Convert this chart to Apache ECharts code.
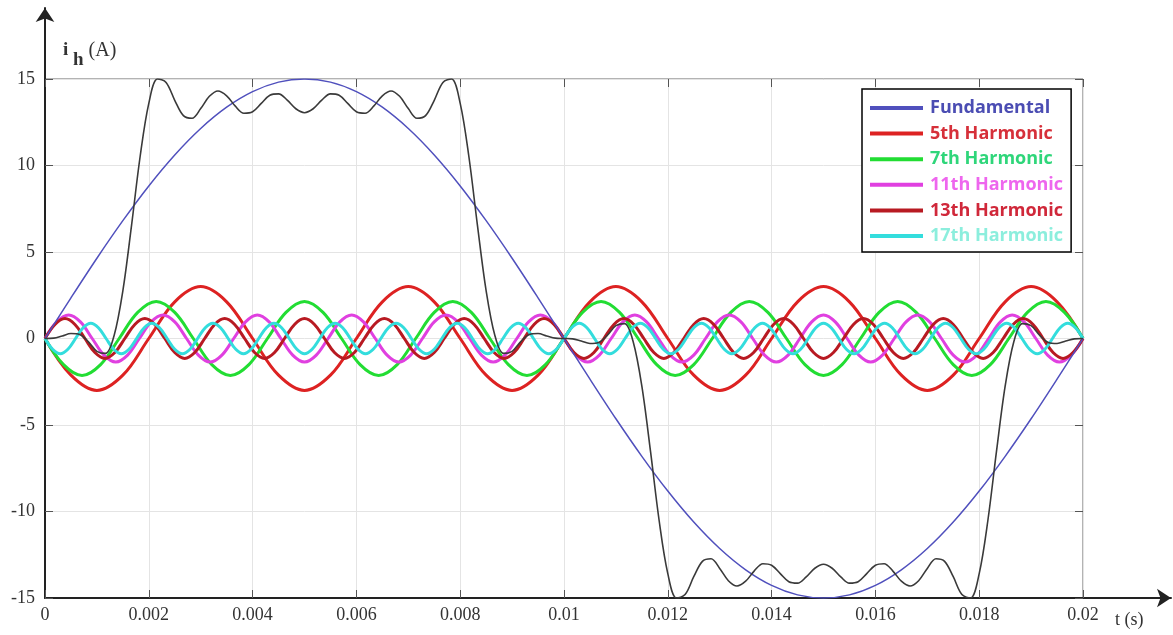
<!DOCTYPE html>
<html>
<head>
<meta charset="utf-8">
<script src="https://cdn.jsdelivr.net/npm/echarts@6/dist/echarts.min.js"></script>
<style>html,body{margin:0;padding:0;background:#fff}#c{width:1173px;height:635px}</style>
</head>
<body>
<div id="c"></div>
<script>
// ---------- data (time in s, current in A) ----------
const yTicks = [-15, -10, -5, 0, 5, 10, 15];
const xTicks = [0, 0.002, 0.004, 0.006, 0.008, 0.01, 0.012, 0.014, 0.016, 0.018, 0.02];
const seriesNames = ['Fundamental', '5th Harmonic', '7th Harmonic', '11th Harmonic', '13th Harmonic', '17th Harmonic'];

const tFund = [0,0.0005,0.001,0.0015,0.002,0.0025,0.003,0.0035,0.004,0.0045,0.005,0.0055,0.006,0.0065,0.007,0.0075,0.008,0.0085,0.009,0.0095,0.01,0.0105,0.011,0.0115,0.012,0.0125,0.013,0.0135,0.014,0.0145,0.015,0.0155,0.016,0.0165,0.017,0.0175,0.018,0.0185,0.019,0.0195,0.02];
const fund = [0,2.35,4.64,6.81,8.82,10.61,12.14,13.37,14.27,14.82,15,14.82,14.27,13.37,12.14,10.61,8.82,6.81,4.64,2.35,
  0,-2.35,-4.64,-6.81,-8.82,-10.61,-12.14,-13.37,-14.27,-14.82,-15,-14.82,-14.27,-13.37,-12.14,-10.61,-8.82,-6.81,-4.64,-2.35,0];

const t5 = [0,0.0005,0.001,0.0015,0.002,0.0025,0.003,0.0035,0.004,0.0045,0.005,0.0055,0.006,0.0065,0.007,0.0075,0.008,0.0085,0.009,0.0095,0.01,0.0105,0.011,0.0115,0.012,0.0125,0.013,0.0135,0.014,0.0145,0.015,0.0155,0.016,0.0165,0.017,0.0175,0.018,0.0185,0.019,0.0195,0.02];
const h5 = [0,-2.12,-3,-2.12,0,2.12,3,2.12,
  0,-2.12,-3,-2.12,0,2.12,3,2.12,
  0,-2.12,-3,-2.12,0,2.12,3,2.12,
  0,-2.12,-3,-2.12,0,2.12,3,2.12,
  0,-2.12,-3,-2.12,0,2.12,3,2.12,
  0];

const t7 = [0,0.000357,0.000714,0.001071,0.001429,0.001786,0.002143,
  0.0025,0.002857,0.003214,0.003571,0.003929,0.004286,0.004643,
  0.005,0.005357,0.005714,0.006071,0.006429,0.006786,0.007143,
  0.0075,0.007857,0.008214,0.008571,0.008929,0.009286,0.009643,
  0.01,0.010357,0.010714,0.011071,0.011429,0.011786,0.012143,
  0.0125,0.012857,0.013214,0.013571,0.013929,0.014286,0.014643,
  0.015,0.015357,0.015714,0.016071,0.016429,0.016786,0.017143,
  0.0175,0.017857,0.018214,0.018571,0.018929,0.019286,0.019643,
  0.02];
const h7 = [0,-1.51,-2.14,-1.51,0,1.51,2.14,1.51,
  0,-1.51,-2.14,-1.51,0,1.51,2.14,1.51,
  0,-1.51,-2.14,-1.51,0,1.51,2.14,1.51,
  0,-1.51,-2.14,-1.51,0,1.51,2.14,1.51,
  0,-1.51,-2.14,-1.51,0,1.51,2.14,1.51,
  0,-1.51,-2.14,-1.51,0,1.51,2.14,1.51,
  0,-1.51,-2.14,-1.51,0,1.51,2.14,1.51,
  0];

const t11 = [0,0.000227,0.000455,0.000682,0.000909,0.001136,0.001364,0.001591,0.001818,0.002045,0.002273,
  0.0025,0.002727,0.002955,0.003182,0.003409,0.003636,0.003864,0.004091,0.004318,0.004545,0.004773,
  0.005,0.005227,0.005455,0.005682,0.005909,0.006136,0.006364,0.006591,0.006818,0.007045,0.007273,
  0.0075,0.007727,0.007955,0.008182,0.008409,0.008636,0.008864,0.009091,0.009318,0.009545,0.009773,
  0.01,0.010227,0.010455,0.010682,0.010909,0.011136,0.011364,0.011591,0.011818,0.012045,0.012273,
  0.0125,0.012727,0.012955,0.013182,0.013409,0.013636,0.013864,0.014091,0.014318,0.014545,0.014773,
  0.015,0.015227,0.015455,0.015682,0.015909,0.016136,0.016364,0.016591,0.016818,0.017045,0.017273,
  0.0175,0.017727,0.017955,0.018182,0.018409,0.018636,0.018864,0.019091,0.019318,0.019545,0.019773,
  0.02];
const h11 = [0,0.96,1.36,0.96,0,-0.96,-1.36,-0.96,
  0,0.96,1.36,0.96,0,-0.96,-1.36,-0.96,
  0,0.96,1.36,0.96,0,-0.96,-1.36,-0.96,
  0,0.96,1.36,0.96,0,-0.96,-1.36,-0.96,
  0,0.96,1.36,0.96,0,-0.96,-1.36,-0.96,
  0,0.96,1.36,0.96,0,-0.96,-1.36,-0.96,
  0,0.96,1.36,0.96,0,-0.96,-1.36,-0.96,
  0,0.96,1.36,0.96,0,-0.96,-1.36,-0.96,
  0,0.96,1.36,0.96,0,-0.96,-1.36,-0.96,
  0,0.96,1.36,0.96,0,-0.96,-1.36,-0.96,
  0,0.96,1.36,0.96,0,-0.96,-1.36,-0.96,
  0];

const t13 = [0,0.000192,0.000385,0.000577,0.000769,0.000962,0.001154,0.001346,0.001538,0.001731,0.001923,0.002115,0.002308,
  0.0025,0.002692,0.002885,0.003077,0.003269,0.003462,0.003654,0.003846,0.004038,0.004231,0.004423,0.004615,0.004808,
  0.005,0.005192,0.005385,0.005577,0.005769,0.005962,0.006154,0.006346,0.006538,0.006731,0.006923,0.007115,0.007308,
  0.0075,0.007692,0.007885,0.008077,0.008269,0.008462,0.008654,0.008846,0.009038,0.009231,0.009423,0.009615,0.009808,
  0.01,0.010192,0.010385,0.010577,0.010769,0.010962,0.011154,0.011346,0.011538,0.011731,0.011923,0.012115,0.012308,
  0.0125,0.012692,0.012885,0.013077,0.013269,0.013462,0.013654,0.013846,0.014038,0.014231,0.014423,0.014615,0.014808,
  0.015,0.015192,0.015385,0.015577,0.015769,0.015962,0.016154,0.016346,0.016538,0.016731,0.016923,0.017115,0.017308,
  0.0175,0.017692,0.017885,0.018077,0.018269,0.018462,0.018654,0.018846,0.019038,0.019231,0.019423,0.019615,0.019808,
  0.02];
const h13 = [0,0.81,1.15,0.81,0,-0.81,-1.15,-0.81,
  0,0.81,1.15,0.81,0,-0.81,-1.15,-0.81,
  0,0.81,1.15,0.81,0,-0.81,-1.15,-0.81,
  0,0.81,1.15,0.81,0,-0.81,-1.15,-0.81,
  0,0.81,1.15,0.81,0,-0.81,-1.15,-0.81,
  0,0.81,1.15,0.81,0,-0.81,-1.15,-0.81,
  0,0.81,1.15,0.81,0,-0.81,-1.15,-0.81,
  0,0.81,1.15,0.81,0,-0.81,-1.15,-0.81,
  0,0.81,1.15,0.81,0,-0.81,-1.15,-0.81,
  0,0.81,1.15,0.81,0,-0.81,-1.15,-0.81,
  0,0.81,1.15,0.81,0,-0.81,-1.15,-0.81,
  0,0.81,1.15,0.81,0,-0.81,-1.15,-0.81,
  0,0.81,1.15,0.81,0,-0.81,-1.15,-0.81,
  0];

const t17 = [0,0.000147,0.000294,0.000441,0.000588,0.000735,0.000882,0.001029,0.001176,0.001324,0.001471,0.001618,0.001765,0.001912,0.002059,0.002206,0.002353,
  0.0025,0.002647,0.002794,0.002941,0.003088,0.003235,0.003382,0.003529,0.003676,0.003824,0.003971,0.004118,0.004265,0.004412,0.004559,0.004706,0.004853,
  0.005,0.005147,0.005294,0.005441,0.005588,0.005735,0.005882,0.006029,0.006176,0.006324,0.006471,0.006618,0.006765,0.006912,0.007059,0.007206,0.007353,
  0.0075,0.007647,0.007794,0.007941,0.008088,0.008235,0.008382,0.008529,0.008676,0.008824,0.008971,0.009118,0.009265,0.009412,0.009559,0.009706,0.009853,
  0.01,0.010147,0.010294,0.010441,0.010588,0.010735,0.010882,0.011029,0.011176,0.011324,0.011471,0.011618,0.011765,0.011912,0.012059,0.012206,0.012353,
  0.0125,0.012647,0.012794,0.012941,0.013088,0.013235,0.013382,0.013529,0.013676,0.013824,0.013971,0.014118,0.014265,0.014412,0.014559,0.014706,0.014853,
  0.015,0.015147,0.015294,0.015441,0.015588,0.015735,0.015882,0.016029,0.016176,0.016324,0.016471,0.016618,0.016765,0.016912,0.017059,0.017206,0.017353,
  0.0175,0.017647,0.017794,0.017941,0.018088,0.018235,0.018382,0.018529,0.018676,0.018824,0.018971,0.019118,0.019265,0.019412,0.019559,0.019706,0.019853,
  0.02];
const h17 = [0,-0.62,-0.88,-0.62,0,0.62,0.88,0.62,
  0,-0.62,-0.88,-0.62,0,0.62,0.88,0.62,
  0,-0.62,-0.88,-0.62,0,0.62,0.88,0.62,
  0,-0.62,-0.88,-0.62,0,0.62,0.88,0.62,
  0,-0.62,-0.88,-0.62,0,0.62,0.88,0.62,
  0,-0.62,-0.88,-0.62,0,0.62,0.88,0.62,
  0,-0.62,-0.88,-0.62,0,0.62,0.88,0.62,
  0,-0.62,-0.88,-0.62,0,0.62,0.88,0.62,
  0,-0.62,-0.88,-0.62,0,0.62,0.88,0.62,
  0,-0.62,-0.88,-0.62,0,0.62,0.88,0.62,
  0,-0.62,-0.88,-0.62,0,0.62,0.88,0.62,
  0,-0.62,-0.88,-0.62,0,0.62,0.88,0.62,
  0,-0.62,-0.88,-0.62,0,0.62,0.88,0.62,
  0,-0.62,-0.88,-0.62,0,0.62,0.88,0.62,
  0,-0.62,-0.88,-0.62,0,0.62,0.88,0.62,
  0,-0.62,-0.88,-0.62,0,0.62,0.88,0.62,
  0,-0.62,-0.88,-0.62,0,0.62,0.88,0.62,
  0];

// total current (sum of the harmonics above)
const tSum = [0,0.000167,0.000333,0.0005,0.000667,0.000833,
  0.001,0.001167,0.001333,0.0015,0.001667,0.001833,
  0.002,0.002167,0.002333,0.0025,0.002667,0.002833,
  0.003,0.003167,0.003333,0.0035,0.003667,0.003833,
  0.004,0.004167,0.004333,0.0045,0.004667,0.004833,
  0.005,0.005167,0.005333,0.0055,0.005667,0.005833,
  0.006,0.006167,0.006333,0.0065,0.006667,0.006833,
  0.007,0.007167,0.007333,0.0075,0.007667,0.007833,
  0.008,0.008167,0.008333,0.0085,0.008667,0.008833,
  0.009,0.009167,0.009333,0.0095,0.009667,0.009833,
  0.01,0.010167,0.010333,0.0105,0.010667,0.010833,
  0.011,0.011167,0.011333,0.0115,0.011667,0.011833,
  0.012,0.012167,0.012333,0.0125,0.012667,0.012833,
  0.013,0.013167,0.013333,0.0135,0.013667,0.013833,
  0.014,0.014167,0.014333,0.0145,0.014667,0.014833,
  0.015,0.015167,0.015333,0.0155,0.015667,0.015833,
  0.016,0.016167,0.016333,0.0165,0.016667,0.016833,
  0.017,0.017167,0.017333,0.0175,0.017667,0.017833,
  0.018,0.018167,0.018333,0.0185,0.018667,0.018833,
  0.019,0.019167,0.019333,0.0195,0.019667,0.019833,
  0.02];
const iSum = [0,0.02,0.15,0.29,0.23,-0.18,-0.74,-0.86,0.19,2.76,6.53,10.52,13.59,15.00,14.80,13.77,12.88,12.73,13.29,14.00,14.31,14.03,13.43,13.02,13.11,13.59,14.06,14.14,13.78,13.28,13.05,
  13.28,13.78,14.14,14.06,13.59,13.11,13.02,13.43,14.03,14.31,14.00,13.29,12.73,12.88,13.77,14.80,15.00,13.59,10.52,6.53,2.76,0.19,-0.86,-0.74,-0.18,0.23,0.29,0.15,0.02,0,
  -0.02,-0.15,-0.29,-0.23,0.18,0.74,0.86,-0.19,-2.76,-6.53,-10.52,-13.59,-15.00,-14.80,-13.77,-12.88,-12.73,-13.29,-14.00,-14.31,-14.03,-13.43,-13.02,-13.11,-13.59,-14.06,-14.14,-13.78,-13.28,-13.05,
  -13.28,-13.78,-14.14,-14.06,-13.59,-13.11,-13.02,-13.43,-14.03,-14.31,-14.00,-13.29,-12.73,-12.88,-13.77,-14.80,-15.00,-13.59,-10.52,-6.53,-2.76,-0.19,0.86,0.74,0.18,-0.23,-0.29,-0.15,-0.02,0];

// ---------- chart ----------
const SERIF = 'Liberation Serif';
const lineColors = ['#5050bd', '#dd2222', '#22dd33', '#e040e0', '#b81a22', '#33dddd'];
const textColors = ['#4b4db3', '#d6303a', '#2fd67a', '#ee66ee', '#d0283a', '#8ceedd'];

function mk(name, t, y, color, width, z, smooth) {
  return {
    name: name, type: 'line', data: t.map((v, i) => [v, y[i]]),
    smooth: smooth, showSymbol: false, symbol: 'none', silent: true,
    lineStyle: { color: color, width: width }, itemStyle: { color: color }, z: z
  };
}

const chart = echarts.init(document.getElementById('c'), null, { renderer: 'canvas' });
chart.setOption({
  animation: false,
  backgroundColor: '#ffffff',
  grid: [
    { left: 45, right: 90, top: 79, bottom: 37, show: true, borderColor: '#666', borderWidth: 1, backgroundColor: 'transparent' },
    { left: 45, right: 2, top: 8, bottom: 37, show: false }
  ],
  xAxis: [
    { gridIndex: 0, type: 'value', min: xTicks[0], max: xTicks[xTicks.length - 1], interval: 0.002, position: 'bottom',
      axisLine: { show: false, onZero: false },
      axisTick: { show: true, inside: true, length: 8, lineStyle: { color: '#555' } },
      axisLabel: { color: '#333', fontFamily: SERIF, fontSize: 18, margin: 8 },
      splitLine: { show: true, lineStyle: { color: '#e4e4e4', width: 1 } },
      name: 't (s)', nameLocation: 'end', nameGap: 32,
      nameTextStyle: { color: '#333', fontFamily: SERIF, fontSize: 18, align: 'left', verticalAlign: 'top', lineHeight: 18, padding: [13, 0, 0, 0] } },
    { gridIndex: 0, type: 'value', min: 0, max: 0.02, interval: 0.002, position: 'top',
      axisLine: { show: false, onZero: false }, axisTick: { show: true, inside: true, length: 8, lineStyle: { color: '#555' } },
      axisLabel: { show: false }, splitLine: { show: false } },
    { gridIndex: 1, type: 'value', min: 0, max: 1, position: 'bottom',
      axisLine: { show: true, onZero: false, symbol: ['none', 'arrow'], symbolSize: [14, 14], lineStyle: { color: '#222', width: 2 } },
      axisTick: { show: false }, axisLabel: { show: false }, splitLine: { show: false } }
  ],
  yAxis: [
    { gridIndex: 0, type: 'value', min: yTicks[0], max: yTicks[yTicks.length - 1], interval: 5, position: 'left',
      axisLine: { show: false, onZero: false },
      axisTick: { show: true, inside: true, length: 8, lineStyle: { color: '#555' } },
      axisLabel: { color: '#333', fontFamily: SERIF, fontSize: 18, margin: 10 },
      splitLine: { show: true, lineStyle: { color: '#e4e4e4', width: 1 } },
      name: '{i|i }{h|h}{a| (A)}', nameLocation: 'end', nameGap: 20,
      nameTextStyle: { align: 'left', padding: [0, 0, 0, 18],
        rich: {
          i: { fontFamily: SERIF, fontSize: 19, fontWeight: 'bold', color: '#333', lineHeight: 18, verticalAlign: 'top' },
          h: { fontFamily: SERIF, fontSize: 19, fontWeight: 'bold', color: '#333', lineHeight: 18, verticalAlign: 'top', padding: [10, 0, 0, 0] },
          a: { fontFamily: SERIF, fontSize: 20, color: '#333', lineHeight: 18, verticalAlign: 'top' }
        } } },
    { gridIndex: 0, type: 'value', min: -15, max: 15, interval: 5, position: 'right',
      axisLine: { show: false, onZero: false }, axisTick: { show: true, inside: true, length: 8, lineStyle: { color: '#555' } },
      axisLabel: { show: false }, splitLine: { show: false } },
    { gridIndex: 1, type: 'value', min: 0, max: 1, position: 'left',
      axisLine: { show: true, onZero: false, symbol: ['none', 'arrow'], symbolSize: [14, 14], lineStyle: { color: '#222', width: 2 } },
      axisTick: { show: false }, axisLabel: { show: false }, splitLine: { show: false } }
  ],
  legend: {
    orient: 'vertical', left: 862, top: 89,
    data: seriesNames.map((n, i) => ({ name: n, textStyle: { color: textColors[i] } })),
    icon: 'rect', itemWidth: 53, itemHeight: 4, itemGap: 5.6,
    textStyle: { fontFamily: 'Open Sans', fontWeight: 'bold', fontSize: 18, lineHeight: 20, padding: [0, 0, 0, 2] },
    borderColor: '#000', borderWidth: 1.5, padding: [9, 8, 6, 8], backgroundColor: '#fff',
    selectedMode: false
  },
  series: [
    mk(seriesNames[1], t5, h5, lineColors[1], 3, 3, 0.37),
    mk(seriesNames[2], t7, h7, lineColors[2], 3, 3, 0.37),
    mk(seriesNames[3], t11, h11, lineColors[3], 3, 3, 0.37),
    mk(seriesNames[4], t13, h13, lineColors[4], 3, 3, 0.37),
    mk(seriesNames[5], t17, h17, lineColors[5], 3, 3, 0.37),
    mk(seriesNames[0], tFund, fund, lineColors[0], 1.5, 4, 0.34),
    mk('Total', tSum, iSum, '#3a3a3a', 1.6, 5, 0.34)
  ]
});
</script>
</body>
</html>
